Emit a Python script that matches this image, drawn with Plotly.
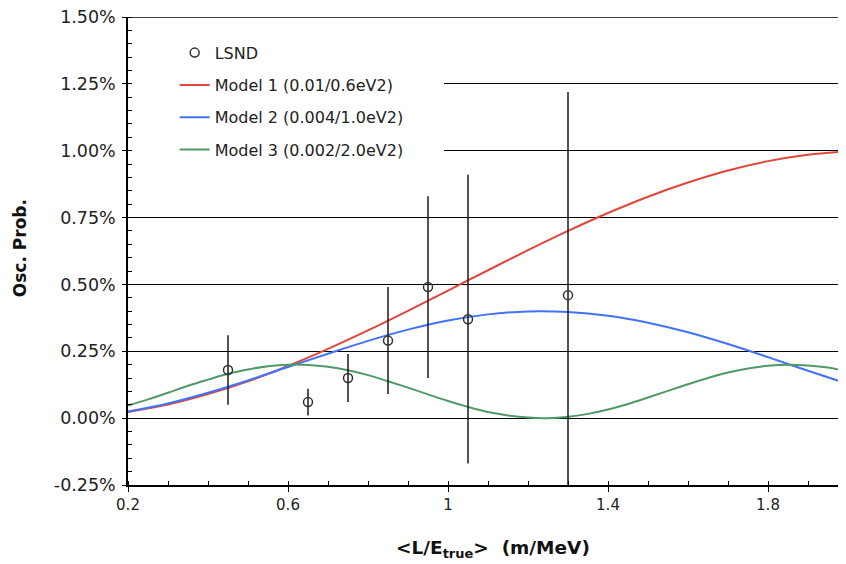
import plotly.graph_objects as go

# ---- data (in %) ----
lsnd_x = [0.45, 0.65, 0.75, 0.85, 0.95, 1.05, 1.30]
lsnd_y = [0.18, 0.06, 0.15, 0.29, 0.49, 0.37, 0.46]
lsnd_err = [0.13, 0.05, 0.09, 0.20, 0.34, 0.54, 0.76]

m12_x = [0.2, 0.3, 0.4, 0.5, 0.6, 0.7, 0.8, 0.9, 1.0, 1.1, 1.2, 1.3, 1.4, 1.5,
         1.6, 1.7, 1.8, 1.9, 2.0]
model1_y = [0.023, 0.051, 0.090, 0.138, 0.195, 0.259, 0.328, 0.401, 0.477, 0.553,
            0.628, 0.700, 0.767, 0.828, 0.881, 0.926, 0.961, 0.985, 0.998]
model2_y = [0.025, 0.055, 0.095, 0.141, 0.191, 0.241, 0.289, 0.331, 0.365, 0.388,
            0.399, 0.397, 0.383, 0.357, 0.321, 0.277, 0.228, 0.177, 0.128]

m3_x = [0.20, 0.25, 0.30, 0.35, 0.40, 0.45, 0.50, 0.55, 0.60, 0.65, 0.70, 0.75,
        0.80, 0.85, 0.90, 0.95, 1.00, 1.05, 1.10, 1.15, 1.20, 1.25, 1.30, 1.35,
        1.40, 1.45, 1.50, 1.55, 1.60, 1.65, 1.70, 1.75, 1.80, 1.85, 1.90, 1.95, 2.00]
model3_y = [0.047, 0.070, 0.095, 0.121, 0.144, 0.166, 0.182, 0.194, 0.200, 0.199,
            0.192, 0.179, 0.161, 0.138, 0.114, 0.089, 0.064, 0.042, 0.023, 0.010,
            0.002, 0.000, 0.005, 0.016, 0.032, 0.053, 0.077, 0.102, 0.127, 0.150,
            0.171, 0.186, 0.196, 0.200, 0.197, 0.189, 0.174]

x_tickvals = [0.2, 0.6, 1.0, 1.4, 1.8]
x_ticktext = ["0.2", "0.6", "1", "1.4", "1.8"]
y_tickvals = [-0.25, 0.0, 0.25, 0.5, 0.75, 1.0, 1.25, 1.5]
y_ticktext = ["-0.25%", "0.00%", "0.25%", "0.50%", "0.75%", "1.00%", "1.25%", "1.50%"]

RED = "#E2463A"
BLUE = "#4272F8"
GREEN = "#4F9A68"
FONT = "DejaVu Sans"

fig = go.Figure()

fig.add_trace(go.Scatter(
    x=m12_x, y=model1_y, mode="lines", name="Model 1 (0.01/0.6eV2)",
    line=dict(color=RED, width=2, shape="spline"), legendgroup="m1", legendrank=2))
fig.add_trace(go.Scatter(
    x=m12_x, y=model2_y, mode="lines", name="Model 2 (0.004/1.0eV2)",
    line=dict(color=BLUE, width=2, shape="spline"), legendgroup="m2", legendrank=3))
fig.add_trace(go.Scatter(
    x=m3_x, y=model3_y, mode="lines", name="Model 3 (0.002/2.0eV2)",
    line=dict(color=GREEN, width=2, shape="spline"), legendgroup="m3", legendrank=4))
fig.add_trace(go.Scatter(
    x=lsnd_x, y=lsnd_y, mode="markers", name="LSND",
    marker=dict(symbol="circle-open", size=9, color="#333333",
                line=dict(width=1.5, color="#333333")),
    error_y=dict(type="data", array=lsnd_err, visible=True, color="#1a1a1a",
                 thickness=1.5, width=0),
    legendgroup="lsnd", legendrank=1))

# white area behind legend hiding gridlines
fig.add_shape(type="rect", xref="x", yref="y", x0=0.2, x1=0.99, y0=0.86, y1=1.42,
              fillcolor="white", line=dict(width=0), layer="between")
# top border line at 1.50%
fig.add_shape(type="line", xref="paper", yref="y", x0=0, x1=1, y0=1.5, y1=1.5,
              line=dict(color="black", width=1.5), layer="above")

fig.add_annotation(text="<b>Osc. Prob.</b>", xref="paper", yref="paper",
                   x=-0.1504, y=0.506, xanchor="center", yanchor="middle",
                   textangle=-90, showarrow=False,
                   font=dict(family=FONT, size=17, color="#111"))
fig.add_annotation(text="<b>&lt;L/E<sub>true</sub>&gt;  (m/MeV)</b>", xref="paper", yref="paper",
                   x=0.509, y=-0.137, xanchor="center", yanchor="middle",
                   showarrow=False, font=dict(family=FONT, size=18.5, color="#111"))

# page body has an 8px margin, so the figure is 8px smaller than the window
fig.update_layout(
    width=838, height=556,
    margin=dict(l=120, r=0, t=9, b=79),
    paper_bgcolor="white", plot_bgcolor="white",
    font=dict(family=FONT, color="#111111"),
    showlegend=True,
    legend=dict(x=0.065, y=0.960, xanchor="left", yanchor="top",
                bgcolor="rgba(0,0,0,0)", font=dict(size=16, family=FONT, color="#222"),
                tracegroupgap=8.5, traceorder="grouped", itemwidth=30),
    xaxis=dict(range=[0.2, 1.995], tickvals=x_tickvals, ticktext=x_ticktext,
               automargin=False, ticklabeloverflow="allow",
               showgrid=False, zeroline=False, showline=True, linecolor="black",
               linewidth=1.5, ticks="outside", ticklen=5, tickwidth=1.2, tickcolor="black",
               tickfont=dict(family=FONT, size=15, color="#222"),
               minor=dict(dtick=0.1, ticks="inside", ticklen=4, tickcolor="black", tickwidth=1)),
    xaxis2=dict(range=[0.2, 1.995], overlaying="x", anchor="y", side="bottom",
                tickvals=x_tickvals, showticklabels=False, automargin=False,
                showgrid=False, zeroline=False, showline=False,
                ticks="inside", ticklen=5, tickwidth=1.2, tickcolor="black"),
    yaxis=dict(range=[-0.25, 1.5], tickvals=y_tickvals, ticktext=y_ticktext,
               automargin=False, ticklabelstandoff=3, ticklabeloverflow="allow",
               showgrid=True, gridcolor="black", gridwidth=1.3, zeroline=False,
               showline=True, linecolor="black", linewidth=1.5,
               ticks="outside", ticklen=4, tickwidth=1.2, tickcolor="black",
               tickfont=dict(family=FONT, size=17.5, color="#222"),
               minor=dict(dtick=0.05, ticks="inside", ticklen=4, tickcolor="black", tickwidth=1)),
    yaxis2=dict(range=[-0.25, 1.5], overlaying="y", anchor="x", side="left",
                tickvals=y_tickvals, showticklabels=False, automargin=False,
                showgrid=False, zeroline=False, showline=False,
                ticks="inside", ticklen=11, tickwidth=1.2, tickcolor="black"),
)

fig.write_html("out.html")
